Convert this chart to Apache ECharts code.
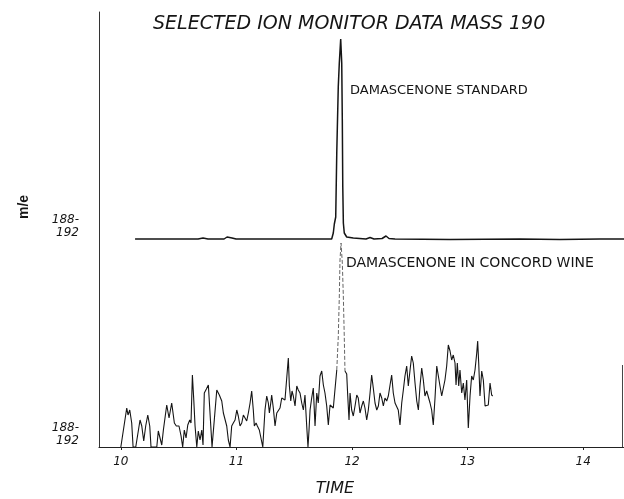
<!DOCTYPE html>
<html>
<head>
<meta charset="utf-8">
<script src="https://cdn.jsdelivr.net/npm/echarts@6/dist/echarts.min.js"></script>
<style>
  html, body { margin: 0; padding: 0; background: #fff; }
  #chart { width: 624px; height: 499px; }
</style>
</head>
<body>
<div id="chart"></div>
<script>
// time ticks and the two "188-192" trace baselines
const xTicks = [10, 11, 12, 13, 14];
const yLabelValues = [0, 208];

// damascenone standard, [time, response]
const stdTrace = [
  [10.123, 208], [10.668, 208], [10.711, 209], [10.728, 210], [10.754, 208],
  [10.893, 208], [10.919, 210], [10.936, 212], [10.962, 209], [10.997, 208],
  [11.824, 208], [11.838, 214], [11.847, 223], [11.859, 230], [11.868, 294],
  [11.881, 360], [11.890, 384], [11.902, 408], [11.911, 384], [11.916, 327],
  [11.920, 260], [11.925, 224], [11.933, 214], [11.954, 210], [12.011, 209],
  [12.121, 208], [12.156, 209.5], [12.190, 208], [12.260, 208.5], [12.294, 211],
  [12.320, 208.5], [12.372, 208], [12.848, 207.5], [13.453, 208], [13.799, 207.5],
  [14.145, 208], [14.353, 208]
];

// damascenone in concord wine, before the off-scale peak
const wineBefore = [
  [10.000, 0], [10.013, 0], [10.051, 39], [10.062, 32], [10.077, 37], [10.094, 24],
  [10.106, 0], [10.129, 0], [10.166, 27], [10.181, 21], [10.198, 6], [10.215, 21],
  [10.233, 32], [10.250, 21], [10.261, 0], [10.311, 0], [10.324, 16], [10.339, 9],
  [10.354, 2], [10.368, 17], [10.397, 42], [10.417, 29], [10.440, 44], [10.463, 24],
  [10.480, 21], [10.503, 21], [10.521, 11], [10.535, 0], [10.549, 17], [10.564, 9],
  [10.579, 22], [10.596, 27], [10.607, 24], [10.619, 72], [10.631, 47], [10.642, 21],
  [10.657, 0], [10.670, 16], [10.685, 7], [10.700, 17], [10.711, 2], [10.722, 54],
  [10.740, 58], [10.757, 62], [10.767, 60], [10.789, 0], [10.830, 57], [10.852, 52],
  [10.873, 46], [10.887, 34], [10.901, 32], [10.916, 21], [10.930, 7], [10.945, 0],
  [10.959, 21], [10.973, 24], [10.988, 27], [11.003, 37], [11.016, 31], [11.031, 21],
  [11.046, 24], [11.060, 32], [11.074, 31], [11.089, 26], [11.103, 34], [11.118, 44],
  [11.132, 56], [11.146, 37], [11.155, 21], [11.170, 24], [11.181, 21], [11.198, 17],
  [11.213, 17], [11.228, 0], [11.247, 37], [11.262, 51], [11.276, 44], [11.285, 34],
  [11.297, 44], [11.305, 52], [11.319, 39], [11.334, 21], [11.349, 34], [11.362, 36],
  [11.377, 39], [11.392, 49], [11.406, 51], [11.420, 47], [11.435, 46], [11.449, 89],
  [11.458, 61], [11.470, 46], [11.481, 56], [11.492, 51], [11.507, 41], [11.522, 61],
  [11.535, 57], [11.550, 54], [11.565, 44], [11.579, 37], [11.593, 52], [11.608, 21],
  [11.619, 0], [11.628, 17], [11.637, 37], [11.651, 49], [11.665, 59], [11.680, 21],
  [11.695, 54], [11.708, 44], [11.723, 71], [11.738, 76], [11.752, 62], [11.766, 54],
  [11.781, 41], [11.795, 22], [11.810, 42], [11.824, 41], [11.838, 39], [11.853, 37],
  [11.868, 77]
];

// the off-scale wine peak (drawn faint in the original)
const winePeak = [
  [11.868, 77], [11.881, 110], [11.890, 150], [11.896, 187], [11.905, 204],
  [11.916, 184], [11.925, 150], [11.933, 110], [11.939, 76]
];

// wine trace after the peak
const wineAfter = [
  [11.939, 76], [11.954, 73], [11.963, 51], [11.974, 27], [11.983, 54], [11.997, 37],
  [12.011, 31], [12.026, 41], [12.041, 52], [12.054, 49], [12.069, 34], [12.084, 41],
  [12.098, 46], [12.112, 39], [12.127, 27], [12.141, 37], [12.156, 54], [12.170, 72],
  [12.184, 59], [12.199, 44], [12.214, 37], [12.228, 41], [12.242, 54], [12.257, 49],
  [12.271, 41], [12.285, 49], [12.300, 46], [12.314, 51], [12.329, 62], [12.343, 72],
  [12.357, 54], [12.372, 44], [12.387, 42], [12.400, 37], [12.415, 22], [12.430, 44],
  [12.444, 57], [12.458, 71], [12.473, 81], [12.487, 61], [12.502, 77], [12.516, 91],
  [12.530, 84], [12.545, 64], [12.560, 46], [12.574, 37], [12.588, 61], [12.603, 79],
  [12.617, 67], [12.631, 51], [12.646, 56], [12.660, 57], [12.675, 44], [12.689, 37],
  [12.703, 22], [12.718, 49], [12.733, 81], [12.747, 71], [12.761, 61], [12.776, 51],
  [12.790, 49], [12.804, 67], [12.819, 81], [12.833, 102], [12.848, 96], [12.862, 87],
  [12.876, 92], [12.891, 84], [12.900, 62], [12.911, 84], [12.923, 61], [12.934, 77],
  [12.949, 54], [12.963, 64], [12.977, 47], [12.992, 67], [13.006, 19], [13.021, 51],
  [13.035, 71], [13.049, 67], [13.064, 77], [13.079, 94], [13.087, 106], [13.096, 84],
  [13.107, 51], [13.122, 76], [13.136, 67], [13.151, 41], [13.165, 41], [13.179, 42],
  [13.194, 64], [13.208, 52], [13.217, 51]
];

// stray vertical edge at the right of the scan
const edgeLine = [[14.34, 0], [14.34, 82]];

const chart = echarts.init(document.getElementById('chart'));
const FONT = 'DejaVu Sans';
const ink = '#151515';

const lineSeries = (name, data, width, extra) => Object.assign({
  name: name,
  type: 'line',
  data: data,
  symbol: 'none',
  smooth: false,
  silent: true,
  lineStyle: { color: ink, width: width },
  z: 3
}, extra || {});

chart.setOption({
  animation: false,
  backgroundColor: '#fff',
  title: {
    text: 'SELECTED ION MONITOR DATA MASS 190',
    left: 153,
    top: 15,
    padding: 0,
    textStyle: { fontFamily: FONT, fontSize: 19, fontStyle: 'italic', fontWeight: 'normal', color: ink }
  },
  grid: { left: 99, right: 0, top: 12, bottom: 52 },
  xAxis: {
    type: 'value',
    min: 9.811,
    max: 14.353,
    axisLine: { show: true, lineStyle: { color: '#222', width: 1.2 } },
    axisTick: { show: true, length: 3, customValues: xTicks, lineStyle: { color: '#222' } },
    axisLabel: {
      customValues: xTicks,
      margin: 9,
      fontFamily: FONT, fontSize: 12, fontStyle: 'italic', color: ink
    },
    splitLine: { show: false }
  },
  yAxis: {
    type: 'value',
    min: 0,
    max: 435,
    axisLine: { show: true, lineStyle: { color: '#333', width: 1 } },
    axisTick: { show: false },
    axisLabel: {
      customValues: yLabelValues,
      formatter: () => '188-\n192',
      margin: 20,
      verticalAlign: 'bottom',
      lineHeight: 13,
      fontFamily: FONT, fontSize: 12, fontStyle: 'italic', color: ink
    },
    splitLine: { show: false }
  },
  graphic: [
    {
      type: 'text', x: 24, y: 207, rotation: Math.PI / 2,
      style: { text: 'm/e', font: 'bold 14px "Liberation Sans"', fill: ink, textAlign: 'center', textVerticalAlign: 'middle' }
    },
    {
      type: 'text', x: 335, y: 489,
      style: { text: 'TIME', font: 'italic 16px "DejaVu Sans"', fill: ink, textAlign: 'center', textVerticalAlign: 'middle' }
    },
    {
      type: 'text', x: 350, y: 91,
      style: { text: 'DAMASCENONE STANDARD', font: '13px "DejaVu Sans"', fill: ink, textAlign: 'left', textVerticalAlign: 'middle' }
    },
    {
      type: 'text', x: 346, y: 263,
      style: { text: 'DAMASCENONE IN CONCORD WINE', font: '14px "DejaVu Sans"', fill: ink, textAlign: 'left', textVerticalAlign: 'middle' }
    }
  ],
  series: [
    lineSeries('standard', stdTrace, 1.5),
    lineSeries('wine', wineBefore, 1.1),
    lineSeries('wine peak', winePeak, 1, { lineStyle: { color: '#666', width: 1, type: [4, 2] } }),
    lineSeries('wine', wineAfter, 1.1),
    lineSeries('edge', edgeLine, 1, { lineStyle: { color: '#444', width: 1 } })
  ]
});
</script>
</body>
</html>
